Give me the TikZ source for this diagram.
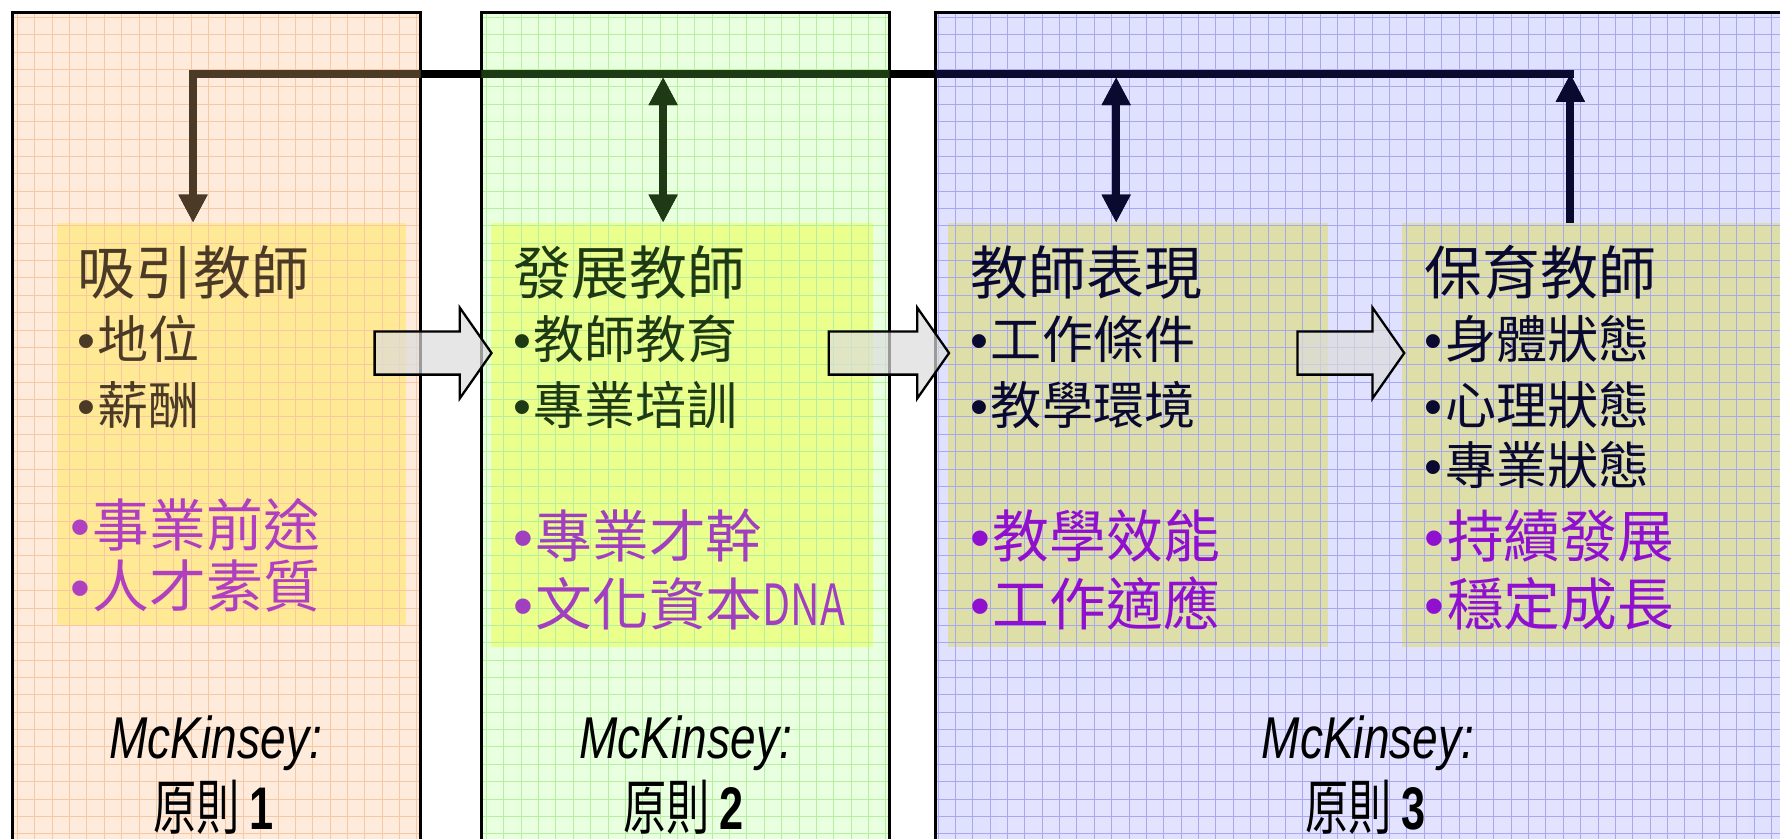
\documentclass[tikz,border=0pt]{standalone}
\usepackage{fontspec}
\newfontfamily\cjk{Noto Sans CJK TC}
\newfontfamily\arl{Liberation Sans}
\usetikzlibrary{arrows.meta}
\definecolor{pAfill}{HTML}{FEEBDC}
\definecolor{pAgrid}{HTML}{F6C8A4}
\definecolor{pBfill}{HTML}{E8FFE0}
\definecolor{pBgrid}{HTML}{B4F0A0}
\definecolor{pCfill}{HTML}{E0E0FF}
\definecolor{pCgrid}{HTML}{A8A8F0}
\definecolor{bAfill}{HTML}{FFE994}
\definecolor{bBfill}{HTML}{EBFF8C}
\definecolor{bCfill}{HTML}{DEDEA8}
\definecolor{tA}{HTML}{4B3A26}
\definecolor{tB}{HTML}{1E3A14}
\definecolor{tC}{HTML}{0A0A30}
\definecolor{uA}{HTML}{B040C0}
\definecolor{uB}{HTML}{A040C0}
\definecolor{uC}{HTML}{9010D0}
\definecolor{arrfill}{HTML}{DCDCDC}
\newcommand\bul{{\arl •}\kern2pt}
\tikzset{
  panel/.style={rectangle, inner sep=0, anchor=north west},
  innerbox/.style={rectangle, inner sep=0, anchor=north west},
  link/.style={line width=8pt},
  bigarrow/.style={draw=black, line width=2.3pt, fill=arrfill, fill opacity=0.7, line join=miter},
  gridline/.style={line width=0.8pt, step=15.3pt},
  title/.style={anchor=base west, inner sep=0, font=\cjk\fontsize{51}{51}\selectfont},
  body/.style={anchor=base west, inner sep=0, font=\cjk\fontsize{45}{45}\selectfont},
  hilite/.style={anchor=base west, inner sep=0, font=\cjk\fontsize{50}{50}\selectfont},
  mck/.style={anchor=base, inner sep=0, font=\arl\itshape\fontsize{52}{52}\selectfont},
  prin/.style={anchor=base, inner sep=0, font=\cjk\fontsize{53}{53}\selectfont},
}
\newcommand\drawlinks[1]{%
  \draw[link,draw=#1,-{Triangle[width=27pt,length=28pt]}] (B4.north -| c4) -- (c4);
  \draw[link,draw=#1,line join=miter,-{Triangle[width=27pt,length=28pt]}] (c4) ++(3.5,0) -- (c1) -- (c1 |- B1.north);
  \draw[link,draw=#1,{Triangle[width=27pt,length=28pt]}-{Triangle[width=27pt,length=28pt]}] (c2 |- 0,68) -- (c2 |- B2.north);
  \draw[link,draw=#1,{Triangle[width=27pt,length=28pt]}-{Triangle[width=27pt,length=28pt]}] (c3 |- 0,68) -- (c3 |- B3.north);
}
\begin{document}
\begin{tikzpicture}[x=1pt,y=-1pt,scale=1.13520,every node/.append style={transform shape}]
\useasboundingbox (0,0) rectangle (1568,739);
\clip (0,0) rectangle (1568,739);
\fill[white] (0,0) rectangle (1568,739);
% panels
\node[panel, fill=pAfill, minimum width=359, minimum height=780] (P1) at (11,11) {};
\node[panel, fill=pBfill, minimum width=359, minimum height=780] (P2) at (424,11) {};
\node[panel, fill=pCfill, minimum width=800, minimum height=780] (P3) at (824,11) {};
% inner boxes
\node[innerbox, fill=bAfill, minimum width=307, minimum height=354] (B1) at (50,196) {};
\node[innerbox, fill=bBfill, minimum width=337, minimum height=374] (B2) at (432,196) {};
\node[innerbox, fill=bCfill, minimum width=335, minimum height=374] (B3) at (835,196) {};
\node[innerbox, fill=bCfill, minimum width=400, minimum height=374] (B4) at (1235,196) {};
% soft glow in panel 3
\fill[white, opacity=0.12] (880,610) rectangle (1540,735);
% grids
\begin{scope}
  \clip (P1.north west) rectangle (P1.south east);
  \draw[pAgrid, gridline] (P1.north west) grid (P1.south east);
\end{scope}
\begin{scope}
  \clip (P2.north west) rectangle (P2.south east);
  \draw[pBgrid, gridline] (P2.north west) grid (P2.south east);
\end{scope}
\begin{scope}
  \clip (P3.north west) rectangle (P3.south east);
  \draw[pCgrid, gridline] (P3.north west) grid (P3.south east);
\end{scope}
\draw[black, line width=2.3pt] (P1.south west) -- (P1.north west) -- (P1.north east) -- (P1.south east);
\draw[black, line width=2.3pt] (P2.south west) -- (P2.north west) -- (P2.north east) -- (P2.south east);
\draw[black, line width=2.3pt] (P3.south west) -- (P3.north west) -- (P3.north east);
% connectors
\coordinate (c1) at (170,65);
\coordinate (c2) at (584,65);
\coordinate (c3) at (983,65);
\coordinate (c4) at (1383,65);
\drawlinks{black}
\begin{scope}\clip (P1.north west) rectangle (P1.south east); \drawlinks{tA} \end{scope}
\begin{scope}\clip (P2.north west) rectangle (P2.south east); \drawlinks{tB} \end{scope}
\begin{scope}\clip (P3.north west) rectangle (P3.south east); \drawlinks{tC} \end{scope}
% big arrows
\draw[bigarrow] (330,292) -- (405,292) -- (405,271) -- (433,311) -- (405,351) -- (405,330) -- (330,330) -- cycle;
\draw[bigarrow] (730,292) -- (808,292) -- (808,271) -- (836,311) -- (808,351) -- (808,330) -- (730,330) -- cycle;
\draw[bigarrow] (1143,292) -- (1209,292) -- (1209,271) -- (1237,311) -- (1209,351) -- (1209,330) -- (1143,330) -- cycle;
% box 1 text
\node[title, text=tA] (t1) at (68,259) {吸引教師};
\node[body, text=tA] (t1a) at (68,316) {\bul 地位};
\node[body, text=tA] (t1b) at (68,374) {\bul 薪酬};
\node[hilite, text=uA] (t1c) at (62,481) {\bul 事業前途};
\node[hilite, text=uA] (t1d) at (62,535) {\bul 人才素質};
% box 2 text
\node[title, text=tB] (t2) at (452,259) {發展教師};
\node[body, text=tB] (t2a) at (452,316) {\bul 教師教育};
\node[body, text=tB] (t2b) at (452,374) {\bul 專業培訓};
\node[hilite, text=uB] (t2c) at (452,491) {\bul 專業才幹};
\node[hilite, text=uB] (t2d) at (452,551) {\bul 文化資本\scalebox{0.72}[1]{DNA}};
% box 3 text
\node[title, text=tC] (t3) at (855,259) {教師表現};
\node[body, text=tC] (t3a) at (855,316) {\bul 工作條件};
\node[body, text=tC] (t3b) at (855,374) {\bul 教學環境};
\node[hilite, text=uC] (t3c) at (855,491) {\bul 教學效能};
\node[hilite, text=uC] (t3d) at (855,551) {\bul 工作適應};
% box 4 text
\node[title, text=tC] (t4) at (1255,259) {保育教師};
\node[body, text=tC] (t4a) at (1255,316) {\bul 身體狀態};
\node[body, text=tC] (t4b) at (1255,374) {\bul 心理狀態};
\node[body, text=tC] (t4c) at (1255,427) {\bul 專業狀態};
\node[hilite, text=uC] (t4d) at (1255,491) {\bul 持續發展};
\node[hilite, text=uC] (t4e) at (1255,551) {\bul 穩定成長};
% McKinsey labels
\node[mck] (m1) at (190,668) {\scalebox{0.78}[1]{McKinsey:}};
\node[prin] (r1) at (188,731) {\scalebox{0.72}[1]{原則 {\arl\bfseries 1}}};
\node[mck] (m2) at (604,668) {\scalebox{0.78}[1]{McKinsey:}};
\node[prin] (r2) at (602,731) {\scalebox{0.72}[1]{原則 {\arl\bfseries 2}}};
\node[mck] (m3) at (1205,668) {\scalebox{0.78}[1]{McKinsey:}};
\node[prin] (r3) at (1203,731) {\scalebox{0.72}[1]{原則 {\arl\bfseries 3}}};
\end{tikzpicture}
\end{document}
